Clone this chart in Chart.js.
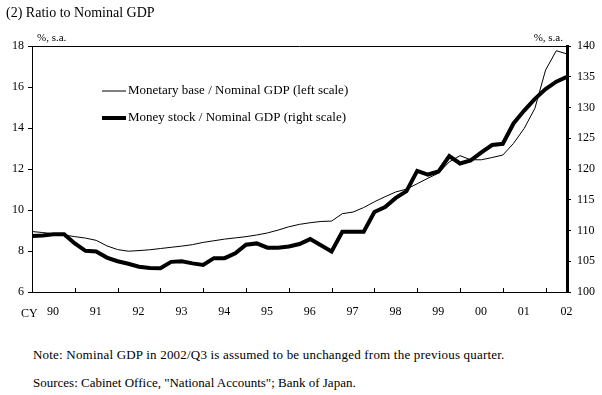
<!DOCTYPE html>
<html>
<head>
<meta charset="utf-8">
<script src="https://cdn.jsdelivr.net/npm/chart.js@4/dist/chart.umd.min.js"></script>
<style>
  body { margin: 0; background: #fff; font-family: "Liberation Serif", serif; color: #000; }
  #page { position: relative; width: 602px; height: 395px; overflow: hidden; }
  #wrap { position: absolute; left: 0; top: 0; width: 602px; height: 330px; }
  .txt { position: absolute; white-space: nowrap; line-height: 1; }
</style>
</head>
<body>
<div id="page">
  <div id="wrap"><canvas id="ratioChart"></canvas></div>
  <div class="txt" style="left:6px; top:6px; font-size:14px;">(2) Ratio to Nominal GDP</div>
  <div class="txt" style="left:21px; top:307px; font-size:12px;">CY</div>
  <div class="txt" style="left:33px; top:348px; font-size:13px; letter-spacing:0.2px;">Note: Nominal GDP in 2002/Q3 is assumed to be unchanged from the previous quarter.</div>
  <div class="txt" style="left:33px; top:376px; font-size:13px;">Sources: Cabinet Office, "National Accounts"; Bank of Japan.</div>
</div>

<script>

/* ======================================
        Data (quarterly, 1990/Q1 - 2002/Q3)
====================================== */

const yearLabels = ["90","91","92","93","94","95","96","97","98","99","00","01","02"];

// Monetary base / Nominal GDP, %, left scale
const monetaryBase = [
    8.95, 8.90, 8.84, 8.78, 8.70, 8.63, 8.52, 8.25, 8.07, 7.99,
    8.02, 8.06, 8.12, 8.18, 8.24, 8.31, 8.42, 8.50, 8.58, 8.64,
    8.70, 8.78, 8.88, 9.02, 9.18, 9.30, 9.38, 9.44, 9.46, 9.82,
    9.90, 10.12, 10.40, 10.65, 10.88, 11.02, 11.28, 11.55, 11.80, 12.35,
    12.65, 12.45, 12.45, 12.56, 12.68, 13.25, 13.98, 14.96, 16.83, 17.77,
    17.61
];

// Money stock / Nominal GDP, %, right scale
const moneyStock = [
    109.1, 109.2, 109.4, 109.4, 107.9, 106.7, 106.6, 105.6, 105.0, 104.6,
    104.1, 103.9, 103.85, 104.9, 105.0, 104.65, 104.4, 105.5, 105.5, 106.3,
    107.7, 107.9, 107.2, 107.2, 107.4, 107.8, 108.6, 107.6, 106.6, 109.8,
    109.8, 109.8, 113.0, 113.8, 115.3, 116.4, 119.7, 119.1, 119.6, 122.1,
    120.9, 121.4, 122.7, 123.9, 124.1, 127.4, 129.5, 131.4, 133.0, 134.2,
    135.0
];

const leftTicks = [6, 8, 10, 12, 14, 16, 18];
const rightTicks = [100, 105, 110, 115, 120, 125, 130, 135, 140];

const serif = "'Liberation Serif', 'Times New Roman', serif";

/* ======================================
        Frame, inner ticks, legend
====================================== */

const framePlugin = {

    id: "frame",

    afterDraw(chart) {

        const { ctx, chartArea: a, scales } = chart;
        const x = scales.x;

        ctx.save();
        ctx.strokeStyle = "#000";
        ctx.lineWidth = 1;

        // top line of the box
        ctx.beginPath();
        ctx.moveTo(a.left, a.top + 0.5);
        ctx.lineTo(a.right, a.top + 0.5);

        // year ticks, pointing into the plot
        x.ticks.forEach(t => {
            if (t.value === 0) return;
            const px = Math.round(x.getPixelForValue(t.value)) + 0.5;
            ctx.moveTo(px, a.bottom);
            ctx.lineTo(px, a.bottom - 4);
        });
        ctx.stroke();

        // unit notes
        ctx.fillStyle = "#000";
        ctx.font = "11px " + serif;
        ctx.textBaseline = "middle";
        ctx.textAlign = "left";
        ctx.fillText("%, s.a.", a.left + 5, a.top - 8);
        ctx.textAlign = "right";
        ctx.fillText("%, s.a.", a.right - 4, a.top - 8);

        // legend
        ctx.textAlign = "left";
        ctx.font = "13px " + serif;
        chart.data.datasets.forEach((ds, i) => {
            const ly = a.top + 45 + i * 27;
            ctx.beginPath();
            ctx.lineWidth = ds.borderWidth;
            ctx.moveTo(a.left + 70, ly);
            ctx.lineTo(a.left + 94, ly);
            ctx.stroke();
            ctx.fillText(ds.label, a.left + 96, ly);
        });

        ctx.restore();

    }

};

/* ======================================
        Chart
====================================== */

const quarterIdx = monetaryBase.map((v, i) => i);

new Chart(document.getElementById("ratioChart"), {

    type: "line",

    data: {

        datasets: [
            {
                label: "Monetary base / Nominal GDP (left scale)",
                data: quarterIdx.map(i => ({ x: i, y: monetaryBase[i] })),
                borderColor: "#000",
                borderWidth: 1,
                pointRadius: 0,
                tension: 0,
                yAxisID: "y"
            },
            {
                label: "Money stock / Nominal GDP (right scale)",
                data: quarterIdx.map(i => ({ x: i, y: moneyStock[i] })),
                borderColor: "#000",
                borderWidth: 4,
                pointRadius: 0,
                tension: 0,
                yAxisID: "y2"
            }
        ]

    },

    options: {

        responsive: true,
        maintainAspectRatio: false,
        animation: false,

        layout: { padding: { top: 46, left: 0, right: 0, bottom: 0 } },

        plugins: {
            legend: { display: false },
            tooltip: { enabled: false }
        },

        scales: {

            x: {
                type: "linear",
                min: 0,
                max: monetaryBase.length - 1,
                afterBuildTicks: s => {
                    s.ticks = yearLabels.map((l, i) => ({ value: i * 4 }));
                },
                afterFit: s => { s.height = 38; },
                grid: { display: false },
                border: { display: true, color: "#000", width: 1 },
                ticks: {
                    color: "#000",
                    font: { family: serif, size: 12 },
                    padding: 5,
                    maxRotation: 0,
                    labelOffset: 21,
                    callback: (v) => yearLabels[v / 4]
                }
            },

            y: {
                position: "left",
                min: 6,
                max: 18,
                afterBuildTicks: s => {
                    s.ticks = leftTicks.map(v => ({ value: v }));
                },
                afterFit: s => { s.width = 32; },
                grid: {
                    drawOnChartArea: false,
                    drawTicks: true,
                    tickLength: 4,
                    color: "#000"
                },
                border: { display: true, color: "#000", width: 1 },
                ticks: {
                    color: "#000",
                    font: { family: serif, size: 12 },
                    padding: 4
                }
            },

            y2: {
                position: "right",
                min: 100,
                max: 140,
                afterBuildTicks: s => {
                    s.ticks = rightTicks.map(v => ({ value: v }));
                },
                afterFit: s => { s.width = 35; },
                grid: {
                    drawOnChartArea: false,
                    drawTicks: true,
                    tickLength: 4,
                    color: "#000"
                },
                border: { display: true, color: "#000", width: 3 },
                ticks: {
                    color: "#000",
                    font: { family: serif, size: 12 },
                    padding: 6
                }
            }

        }

    },

    plugins: [framePlugin]

});

</script>
</body>
</html>
